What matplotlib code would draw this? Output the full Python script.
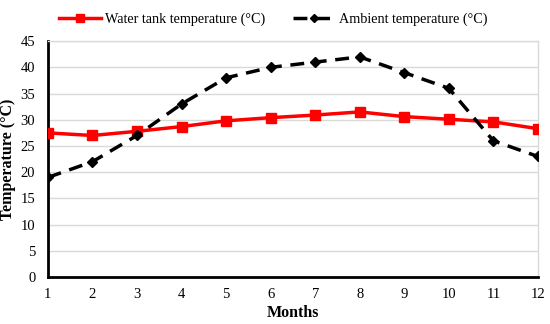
import matplotlib
matplotlib.use("Agg")
import matplotlib.pyplot as plt

plt.rcParams['font.family'] = ['Liberation Serif', 'DejaVu Serif']

months = [1, 2, 3, 4, 5, 6, 7, 8, 9, 10, 11, 12]
water_tank = [27.5, 27.0, 27.8, 28.7, 29.8, 30.4, 30.9, 31.5, 30.6, 30.1, 29.6, 28.3]
ambient = [19, 22, 27, 33, 38, 40, 41, 42, 39, 36, 26, 23]

fig = plt.figure(figsize=(5.5, 3.24), dpi=100)
ax = fig.add_axes([0.087, 0.145, 0.891, 0.728])

ax.plot(months, water_tank, color='#ff0000', lw=2.5, marker='s', ms=6.5,
        label='Water tank temperature (°C)', zorder=3)
ax.plot(months, ambient, color='black', lw=2.5, ls=(0, (4, 2.5)), marker='D', ms=5,
        label='Ambient temperature (°C)', zorder=3)

ax.set_xlim(1, 12)
ax.set_ylim(0, 45)
ax.set_xticks(months)
ax.set_yticks(range(0, 46, 5))
ax.grid(axis='y', color='#d9d9d9', lw=1)
ax.set_axisbelow(True)

for s in ['top', 'right']:
    ax.spines[s].set_color('#d9d9d9')
    ax.spines[s].set_linewidth(1)
for s in ['left', 'bottom']:
    ax.spines[s].set_color('black')
    ax.spines[s].set_linewidth(2)

ax.tick_params(length=0, labelsize=10.5)
ax.tick_params(axis='y', pad=9)
ax.tick_params(axis='x', pad=8)
ax.set_xlabel('Months', fontsize=11.5, fontweight='bold', labelpad=3)
ax.set_ylabel('Temperature (°C)', fontsize=11.5, fontweight='bold', labelpad=3)

fig.legend(loc='upper center', bbox_to_anchor=(0.497, 1.0), ncol=2, frameon=False,
           fontsize=10.2, handlelength=2.9, columnspacing=2.0, handletextpad=0.3,
           markerscale=0.8)

fig.savefig('out.png', dpi=100)
